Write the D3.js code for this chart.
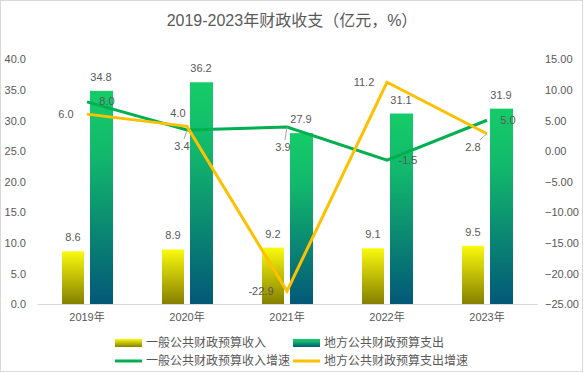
<!DOCTYPE html>
<html>
<head>
<meta charset="utf-8">
<script src="https://cdn.jsdelivr.net/npm/d3@7"></script>
<style>
  body { margin: 0; background: #fff; }
  text { font-family: "Liberation Sans", "Noto Sans CJK SC", sans-serif; fill: #595959; }
</style>
</head>
<body>
<div id="chart"></div>
<script>
var years = ["2019年", "2020年", "2021年", "2022年", "2023年"];
var incomeValues = [8.6, 8.9, 9.2, 9.1, 9.5];
var spendValues = [34.8, 36.2, 27.9, 31.1, 31.9];
var incomeGrowth = [8.0, 3.4, 3.9, -1.5, 5.0];
var spendGrowth = [6.0, 4.0, -22.9, 11.2, 2.8];
var leftTicks = [0, 5, 10, 15, 20, 25, 30, 35, 40];
var rightTicks = [-25, -20, -15, -10, -5, 0, 5, 10, 15];
var seriesNames = ["一般公共财政预算收入", "地方公共财政预算支出", "一般公共财政预算收入增速", "地方公共财政预算支出增速"];

var width = 584, height = 374;
var margin = {top: 59, right: 47, bottom: 70, left: 37};

var svg = d3.select("#chart").append("svg")
	.attr("width", width)
	.attr("height", height);

var defs = svg.append("defs");
var gYellow = defs.append("linearGradient").attr("id", "gYellow")
	.attr("x1", 0).attr("y1", 0).attr("x2", 0).attr("y2", 1);
gYellow.append("stop").attr("offset", "0%").attr("stop-color", "#fafa0c");
gYellow.append("stop").attr("offset", "100%").attr("stop-color", "#858000");
var gGreen = defs.append("linearGradient").attr("id", "gGreen")
	.attr("x1", 0).attr("y1", 0).attr("x2", 0).attr("y2", 1);
gGreen.append("stop").attr("offset", "0%").attr("stop-color", "#15cc68");
gGreen.append("stop").attr("offset", "30%").attr("stop-color", "#12b86c");
gGreen.append("stop").attr("offset", "100%").attr("stop-color", "#035878");

// frame
svg.append("rect")
	.attr("x", 0.5).attr("y", 0.5)
	.attr("width", width - 2).attr("height", height - 3)
	.attr("fill", "#fff").attr("stroke", "#d9d9d9");

svg.append("text")
	.attr("x", width / 2).attr("y", 26)
	.attr("text-anchor", "middle")
	.style("font-size", "16px")
	.text("2019-2023年财政收支（亿元，%）");

var x = d3.scaleBand().domain(years).range([margin.left, width - margin.right]);
var yL = d3.scaleLinear().domain([0, 40]).range([height - 70, margin.top]);
var yR = d3.scaleLinear().domain([-25, 15]).range([height - 70, margin.top]);

// axes
var axL = svg.append("g")
	.attr("transform", "translate(" + (margin.left - 8) + ",0)")
	.call(d3.axisLeft(yL).tickValues(leftTicks).tickFormat(d3.format(".1f")).tickSize(0));
axL.select(".domain").remove();
axL.selectAll("text").attr("fill", "#595959").style("font-size", "11px").attr("dy", "0.35em");

var axR = svg.append("g")
	.attr("transform", "translate(" + (width - margin.right + 8) + ",0)")
	.call(d3.axisRight(yR).tickValues(rightTicks).tickFormat(d3.format(".2f")).tickSize(0));
axR.select(".domain").remove();
axR.selectAll("text").attr("fill", "#595959").style("font-size", "11px").attr("dy", "0.35em").attr("x", 0);

var axB = svg.append("g")
	.attr("transform", "translate(0," + yL(0) + ")")
	.call(d3.axisBottom(x).tickSize(0));
axB.select(".domain").attr("stroke", "#d9d9d9");
axB.selectAll("text").attr("fill", "#595959").style("font-size", "11px").attr("dy", "1.3em");

// bars
var barW = 22, gap = 6;
var incX = function(i) { return x(years[i]) + x.bandwidth() / 2 - gap / 2 - barW; };
var spX = function(i) { return x(years[i]) + x.bandwidth() / 2 + gap / 2; };
var bars = svg.append("g");
bars.selectAll(".inc").data(incomeValues).enter().append("rect")
	.attr("x", function(d, i) { return incX(i); })
	.attr("y", function(d) { return yL(d); })
	.attr("width", barW)
	.attr("height", function(d) { return yL(0) - yL(d); })
	.attr("fill", "url(#gYellow)");
bars.selectAll(".sp").data(spendValues).enter().append("rect")
	.attr("x", function(d, i) { return spX(i); })
	.attr("width", barW + 1)
	.attr("y", function(d) { return yL(d); })
	.attr("height", function(d) { return yL(0) - yL(d); })
	.attr("fill", "url(#gGreen)");

svg.append("g").selectAll("text").data(incomeValues).enter().append("text")
	.attr("x", function(d, i) { return incX(i) + barW / 2; })
	.attr("y", function(d) { return yL(d) - 10; })
	.attr("text-anchor", "middle")
	.style("font-size", "11px")
	.text(function(d) { return d.toFixed(1); });
svg.append("g").selectAll("text").data(spendValues).enter().append("text")
	.attr("x", function(d, i) { return spX(i) + barW / 2; })
	.attr("y", function(d) { return yL(d) - 10; })
	.attr("text-anchor", "middle")
	.style("font-size", "11px")
	.text(function(d) { return d.toFixed(1); });

// lines
var cx = function(i) { return x(years[i]) + x.bandwidth() / 2; };
var line = d3.line()
	.x(function(d, i) { return cx(i); })
	.y(function(d) { return yR(d); });

svg.append("path").datum(incomeGrowth)
	.attr("d", line)
	.attr("fill", "none").attr("stroke", "#00b050").attr("stroke-width", 3);
svg.append("path").datum(spendGrowth)
	.attr("d", line)
	.attr("fill", "none").attr("stroke", "#ffc000").attr("stroke-width", 3);

// line labels: offsets in px relative to point
var incOffsets = [[20, -1], [-5, 16], [-4, 20], [21, 0], [21, 0]];
var spOffsets = [[-21, 0], [-9, -13], [-26, 0], [-23, 0], [-14, 13]];
var incLeader = [false, true, true, false, false];
var spLeader = [false, false, false, false, true];

function drawLabels(vals, offs, leaders) {
	var g = svg.append("g");
	vals.forEach(function(d, i) {
		var px = cx(i), py = yR(d);
		var lx = px + offs[i][0], ly = py + offs[i][1];
		if (leaders[i]) {
			g.append("line")
				.attr("x1", px).attr("y1", py)
				.attr("x2", lx + (offs[i][0] < -8 ? 7 : 2)).attr("y2", ly - 7)
				.attr("stroke", "#a6a6a6").attr("stroke-width", 1);
		}
		g.append("text")
			.attr("x", lx).attr("y", ly)
			.attr("text-anchor", "middle")
			.attr("dy", "0.35em")
			.style("font-size", "11px")
			.text(d.toFixed(1));
	});
}
drawLabels(incomeGrowth, incOffsets, incLeader);
drawLabels(spendGrowth, spOffsets, spLeader);

// legend
var legend = svg.append("g");
var legItems = [
	{name: seriesNames[0], type: "bar", fill: "url(#gYellow)", x: 115, y: 343},
	{name: seriesNames[1], type: "bar", fill: "url(#gGreen)", x: 293, y: 343},
	{name: seriesNames[2], type: "line", fill: "#00b050", x: 115, y: 361},
	{name: seriesNames[3], type: "line", fill: "#ffc000", x: 293, y: 361}
];
legItems.forEach(function(d) {
	if (d.type === "bar") {
		legend.append("rect")
			.attr("x", d.x).attr("y", d.y - 4)
			.attr("width", 27).attr("height", 8)
			.attr("fill", d.fill);
	} else {
		legend.append("line")
			.attr("x1", d.x).attr("x2", d.x + 27)
			.attr("y1", d.y).attr("y2", d.y)
			.attr("stroke", d.fill).attr("stroke-width", 3);
	}
	legend.append("text")
		.attr("x", d.x + 31).attr("y", d.y)
		.attr("dy", "0.35em")
		.style("font-size", "12px")
		.text(d.name);
});
</script>
</body>
</html>
